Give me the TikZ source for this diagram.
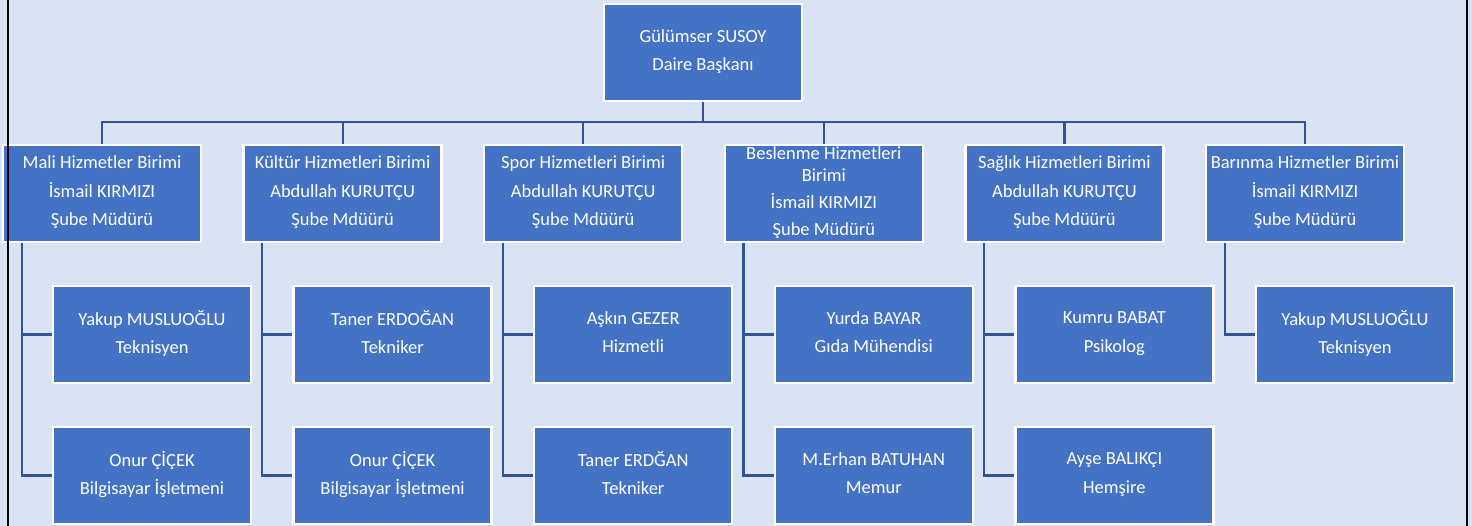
\documentclass[tikz,border=0pt]{standalone}
\usepackage{fontspec}
\setmainfont{Carlito}
\usetikzlibrary{positioning}
\definecolor{boxblue}{RGB}{68,114,196}
\definecolor{lineblue}{RGB}{47,85,151}
\definecolor{pageblue}{RGB}{218,227,243}
\newcommand{\boxstrut}{\rule[-5pt]{0pt}{27pt}}

\begin{document}
\begin{tikzpicture}[
    x=1pt, y=1pt,
    unitbox/.style={rectangle, draw=white, line width=2.5pt, fill=boxblue, text=white,
      minimum width=198pt, minimum height=97pt, inner sep=0pt, align=center,
      font=\fontsize{18.5}{28.5}\selectfont,
      execute at begin node=\boxstrut, execute at end node=\boxstrut},
    conn/.style={draw=lineblue, line width=2.2pt},
  ]
  \fill[pageblue] (0,0) rectangle (1472,-526);
  \useasboundingbox (0,0) rectangle (1472,-526);
  \node[unitbox] (DB)       at (703,-52.5)              {Gülümser SUSOY\\Daire Başkanı};
  \node[unitbox] (MH)       at (102,-193.5)             {Mali Hizmetler Birimi\\İsmail KIRMIZI\\Şube Müdürü};
  \draw[conn] (DB.south) -- ++(0,-20) -| (MH.north);
  \node[unitbox] (MH1)      [below=41.5pt of MH, xshift=50pt]  {Yakup MUSLUOĞLU\\Teknisyen};
  \node[unitbox] (MH2)      [below=41.5pt of MH1]          {Onur ÇİÇEK\\Bilgisayar İşletmeni};
  \draw[conn] ([xshift=20pt]MH.south west) |- (MH1.west);
  \draw[conn] ([xshift=20pt]MH.south west) |- (MH2.west);
  \node[unitbox] (KH)       [right=40.1pt of MH]         {Kültür Hizmetleri Birimi\\Abdullah KURUTÇU\\Şube Mdüürü};
  \draw[conn] (DB.south) -- ++(0,-20) -| (KH.north);
  \node[unitbox] (KH1)      [below=41.5pt of KH, xshift=50pt]  {Taner ERDOĞAN\\Tekniker};
  \node[unitbox] (KH2)      [below=41.5pt of KH1]          {Onur ÇİÇEK\\Bilgisayar İşletmeni};
  \draw[conn] ([xshift=20pt]KH.south west) |- (KH1.west);
  \draw[conn] ([xshift=20pt]KH.south west) |- (KH2.west);
  \node[unitbox] (SH)       [right=40.1pt of KH]         {Spor Hizmetleri Birimi\\Abdullah KURUTÇU\\Şube Mdüürü};
  \draw[conn] (DB.south) -- ++(0,-20) -| (SH.north);
  \node[unitbox] (SH1)      [below=41.5pt of SH, xshift=50pt]  {Aşkın GEZER\\Hizmetli};
  \node[unitbox] (SH2)      [below=41.5pt of SH1]          {Taner ERDĞAN\\Tekniker};
  \draw[conn] ([xshift=20pt]SH.south west) |- (SH1.west);
  \draw[conn] ([xshift=20pt]SH.south west) |- (SH2.west);
  \node[unitbox] (BH)       [right=40.1pt of SH]         {Beslenme Hizmetleri\\[-6.5pt]Birimi\\[-1.5pt]İsmail KIRMIZI\\[-1.5pt]Şube Müdürü};
  \draw[conn] (DB.south) -- ++(0,-20) -| (BH.north);
  \node[unitbox] (BH1)      [below=41.5pt of BH, xshift=50pt]  {Yurda BAYAR\\Gıda Mühendisi};
  \node[unitbox] (BH2)      [below=41.5pt of BH1]          {M.Erhan BATUHAN\\Memur};
  \draw[conn] ([xshift=20pt]BH.south west) |- (BH1.west);
  \draw[conn] ([xshift=20pt]BH.south west) |- (BH2.west);
  \node[unitbox] (SG)       [right=40.1pt of BH]         {Sağlık Hizmetleri Birimi\\Abdullah KURUTÇU\\Şube Mdüürü};
  \draw[conn] (DB.south) -- ++(0,-20) -| (SG.north);
  \node[unitbox] (SG1)      [below=41.5pt of SG, xshift=50pt]  {Kumru BABAT\\Psikolog};
  \node[unitbox] (SG2)      [below=41.5pt of SG1]          {Ayşe BALIKÇI\\Hemşire};
  \draw[conn] ([xshift=20pt]SG.south west) |- (SG1.west);
  \draw[conn] ([xshift=20pt]SG.south west) |- (SG2.west);
  \node[unitbox] (BR)       [right=40.1pt of SG]         {Barınma Hizmetler Birimi\\İsmail KIRMIZI\\Şube Müdürü};
  \draw[conn] (DB.south) -- ++(0,-20) -| (BR.north);
  \node[unitbox] (BR1)      [below=41.5pt of BR, xshift=50pt]  {Yakup MUSLUOĞLU\\Teknisyen};
  \draw[conn] ([xshift=20pt]BR.south west) |- (BR1.west);
  % page edges
  \draw[line width=2pt] (8,0) -- (8,-526);
  \draw[line width=2pt] (1467,0) -- (1467,-526);
\end{tikzpicture}
\end{document}
